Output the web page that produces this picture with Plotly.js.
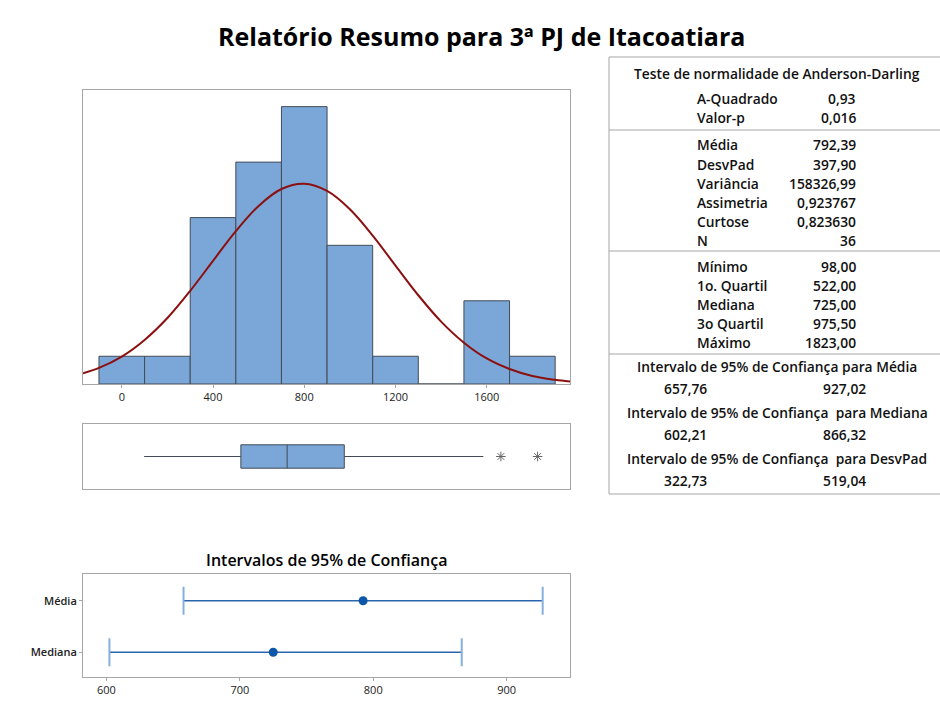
<!DOCTYPE html>
<html>
<head>
<meta charset="utf-8">
<script src="https://cdn.plot.ly/plotly-3.0.1.min.js"></script>
<style>
  html, body { margin: 0; padding: 0; background: #ffffff; }
  #chart { width: 940px; height: 710px; }
</style>
</head>
<body>
<div id="chart"></div>
<script>
// histogram bins (centre, count)
const binCenters = [0, 200, 400, 600, 800, 1000, 1200, 1400, 1600, 1800];
const binCounts = [1, 1, 6, 8, 10, 5, 1, 0, 3, 1];

// fitted normal curve
const curveX = [-170, -100, 0, 100, 200, 300, 400, 500, 600, 700, 800, 900, 1000, 1100, 1200, 1300, 1400, 1500, 1600, 1700, 1800, 1900, 1965];
const curveY = [0.39, 0.58, 0.99, 1.59, 2.38, 3.36, 4.44, 5.51, 6.42, 7.03, 7.22, 6.96, 6.30, 5.35, 4.27, 3.20, 2.25, 1.49, 0.92, 0.54, 0.29, 0.15, 0.09];

// boxplot
const boxQ1 = 522;
const boxMedian = 725;
const boxQ3 = 975.5;
const whiskerLow = 98;
const whiskerHigh = 1585;
const outliers = [1662, 1823];

// confidence intervals
const ciNames = ["Mediana", "Média"];
const ciLow = [602.21, 657.76];
const ciHigh = [866.32, 927.02];
const ciEst = [725, 792.39];

// summary table
const adLabels = ["A-Quadrado", "Valor-p"];
const adValues = ["0,93", "0,016"];
const descLabels = ["Média", "DesvPad", "Variância", "Assimetria", "Curtose", "N"];
const descValues = ["792,39", "397,90", "158326,99", "0,923767", "0,823630", "36"];
const quartLabels = ["Mínimo", "1o. Quartil", "Mediana", "3o Quartil", "Máximo"];
const quartValues = ["98,00", "522,00", "725,00", "975,50", "1823,00"];
const ciTitles = [
  "Intervalo de 95% de Confiança para Média",
  "Intervalo de 95% de Confiança&nbsp; para Mediana",
  "Intervalo de 95% de Confiança&nbsp; para DesvPad"
];
const ciLowText = ["657,76", "602,21", "322,73"];
const ciHighText = ["927,02", "866,32", "519,04"];

const W = 940, H = 710;
const px = (x) => x / W;
const py = (y) => 1 - y / H;

const FONT = "Open Sans, Noto Sans, sans-serif";
const BLUE = "#7ba7d8";
const EDGE = "#434b55";
const FRAME = "#a6a6a6";

const traces = [
  {
    type: "bar",
    x: binCenters,
    y: binCounts,
    width: 200,
    marker: { color: BLUE, line: { color: EDGE, width: 1 } },
    xaxis: "x", yaxis: "y"
  },
  {
    type: "scatter",
    mode: "lines",
    x: curveX,
    y: curveY,
    line: { color: "#8b1010", width: 2, shape: "spline" },
    xaxis: "x", yaxis: "y"
  },
  {
    type: "box",
    orientation: "h",
    y: [0],
    q1: [boxQ1],
    median: [boxMedian],
    q3: [boxQ3],
    lowerfence: [whiskerLow],
    upperfence: [whiskerHigh],
    width: 0.72,
    whiskerwidth: 0,
    fillcolor: BLUE,
    line: { color: EDGE, width: 1 },
    boxpoints: false,
    xaxis: "x2", yaxis: "y2"
  },
  {
    type: "scatter",
    mode: "markers",
    x: outliers,
    y: outliers.map(() => 0),
    marker: { symbol: "asterisk-open", size: 8, color: "#666666", line: { color: "#666666", width: 1 } },
    xaxis: "x2", yaxis: "y2"
  }
];

// interval lines
ciNames.forEach((name, i) => {
  traces.push({
    type: "scatter",
    mode: "lines",
    x: [ciLow[i], ciHigh[i]],
    y: [i, i],
    line: { color: "#2a64ad", width: 1.5 },
    xaxis: "x3", yaxis: "y3"
  });
});

traces.push({
  type: "scatter",
  mode: "markers",
  x: ciLow.concat(ciHigh),
  y: ciNames.map((n, i) => i).concat(ciNames.map((n, i) => i)),
  marker: { symbol: "line-ns-open", size: 20, color: "#86afde", line: { color: "#86afde", width: 2 } },
  xaxis: "x3", yaxis: "y3"
});

traces.push({
  type: "scatter",
  mode: "markers",
  x: ciEst,
  y: ciNames.map((n, i) => i),
  marker: { symbol: "circle", size: 9, color: "#0d57a8" },
  xaxis: "x3", yaxis: "y3"
});

const plotX = [px(83), px(570)];

const tickFont = { family: FONT, size: 11, color: "#222222" };

const annotations = [];
const addText = (text, x, y, anchor, opts = {}) => {
  annotations.push({
    xref: "paper", yref: "paper",
    x: px(x), y: py(y),
    xanchor: anchor, yanchor: "middle",
    text: text,
    showarrow: false,
    font: Object.assign({ family: FONT, size: 13.8, color: "#111111", weight: 600 }, opts)
  });
};

addText("Relatório Resumo para 3ª PJ de Itacoatiara", 481, 36, "center", { size: 25, weight: 700, color: "#000000" });
addText("Intervalos de 95% de Confiança", 326, 560, "center", { size: 16, weight: 600, color: "#000000" });

// table text
const labelX = 695, valueX = 858, midX = 777;
addText("Teste de normalidade de Anderson-Darling", midX, 74, "center");
adLabels.forEach((l, i) => {
  addText(l, labelX, 98 + i * 19, "left");
  addText(adValues[i], valueX, 98 + i * 19, "right");
});
descLabels.forEach((l, i) => {
  addText(l, labelX, 145 + i * 19, "left");
  addText(descValues[i], valueX, 145 + i * 19, "right");
});
quartLabels.forEach((l, i) => {
  addText(l, labelX, 267 + i * 18.75, "left");
  addText(quartValues[i], valueX, 267 + i * 18.75, "right");
});
ciTitles.forEach((t, i) => {
  addText(t, midX, 366 + i * 46, "center");
  addText(ciLowText[i], 685, 388.5 + i * 46, "center");
  addText(ciHighText[i], 844, 388.5 + i * 46, "center");
});

const lineStyle = { color: FRAME, width: 1 };
const shapes = [
  { type: "rect", xref: "paper", yref: "paper", x0: px(609), x1: px(960), y0: py(494), y1: py(57), line: lineStyle },
  ...[130, 251, 354].map((y) => ({
    type: "line", xref: "paper", yref: "paper", x0: px(609), x1: px(960), y0: py(y), y1: py(y), line: lineStyle
  }))
];

const frameAxis = { showline: true, mirror: true, linecolor: FRAME, linewidth: 1, showgrid: false, zeroline: false };

const layout = {
  width: W,
  height: H,
  margin: { l: 0, r: 0, t: 0, b: 0 },
  paper_bgcolor: "#ffffff",
  plot_bgcolor: "#ffffff",
  showlegend: false,
  bargap: 0,
  xaxis: Object.assign({}, frameAxis, {
    domain: plotX, anchor: "y", range: [-170, 1965],
    tickvals: [0, 400, 800, 1200, 1600], ticks: "outside", ticklen: 3, tickcolor: FRAME,
    tickfont: tickFont
  }),
  yaxis: Object.assign({}, frameAxis, {
    domain: [py(384), py(90)], anchor: "x", range: [0, 10.6], showticklabels: false, ticks: ""
  }),
  xaxis2: Object.assign({}, frameAxis, {
    domain: plotX, anchor: "y2", range: [-170, 1965], showticklabels: false, ticks: ""
  }),
  yaxis2: Object.assign({}, frameAxis, {
    domain: [py(489), py(424)], anchor: "x2", range: [-1, 1], showticklabels: false, ticks: ""
  }),
  xaxis3: Object.assign({}, frameAxis, {
    domain: plotX, anchor: "y3", range: [582.4, 947.5],
    tickvals: [600, 700, 800, 900], ticks: "outside", ticklen: 3, tickcolor: FRAME,
    tickfont: tickFont
  }),
  yaxis3: Object.assign({}, frameAxis, {
    domain: [py(677), py(574)], anchor: "x3", range: [-0.48, 1.52],
    tickvals: ciNames.map((n, i) => i), ticktext: ciNames,
    ticks: "outside", ticklen: 3, tickcolor: FRAME,
    tickfont: { family: FONT, size: 11, color: "#222222", weight: 600 }
  }),
  annotations: annotations,
  shapes: shapes
};

Plotly.newPlot("chart", traces, layout, { displayModeBar: false, staticPlot: true });
</script>
</body>
</html>
